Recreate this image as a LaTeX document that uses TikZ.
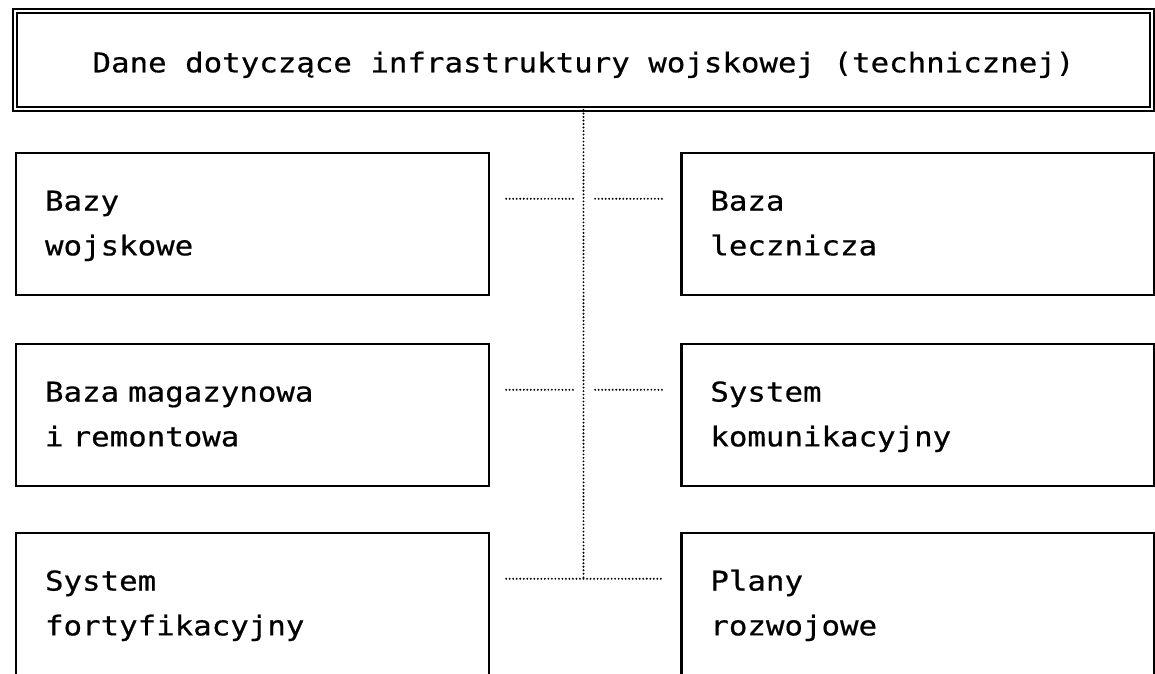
\documentclass[tikz,border=0pt]{standalone}
\usepackage{fontspec}
\newfontfamily\boxfont[FakeStretch=1.13,FakeBold=0.6]{DejaVu Sans Mono}
\usetikzlibrary{positioning}

\begin{document}
\begin{tikzpicture}[x=0.02cm,y=-0.02cm,
  box/.style={draw,line width=1.4pt,minimum width=9.46cm,minimum height=2.84cm,
    text width=8.3cm,inner xsep=0.58cm,align=left,
    font=\boxfont\fontsize{15.5}{25.5}\selectfont},
  headbox/.style={draw,double,double distance=1pt,line width=1.1pt,
    minimum width=22.74cm,minimum height=1.96cm,text height=14pt,text depth=0pt,
    font=\boxfont\fontsize{15.5}{20}\selectfont},
  link/.style={line width=1.2pt,line cap=round,dash pattern=on 0pt off 2pt}]
\useasboundingbox(0,0)rectangle(1155,673);
\clip(0,0)rectangle(1155,673);
% naglowek
\node[headbox](head)at(583.5,60){Dane dotyczące infrastruktury wojskowej (technicznej)};
% lewa kolumna
\node[box](bazy)at(252.5,224){\strut Bazy\\\strut wojskowe};
\node[box](magaz)at(252.5,415){\strut Baza magazynowa\\\strut i remontowa};
\node[box](fort)at(252.5,604){\strut System\\\strut fortyfikacyjny};
% prawa kolumna
\node[box,right=3.8cm of bazy](lecz){\strut Baza\\\strut lecznicza};
\node[box,right=3.8cm of magaz](komun){\strut System\\\strut komunikacyjny};
\node[box,right=3.8cm of fort](plany){\strut Plany\\\strut rozwojowe};
% polaczenia
\coordinate(k3a)at([shift={(16,47)}]fort.north east);
\coordinate(k3b)at([shift={(-17,47)}]plany.north west);
\draw[link](head.south)--(head.south|-k3a);
\draw[link](k3a)--(k3b);
\draw[link]([shift={(16,47)}]bazy.north east)--+(67,0);
\draw[link]([shift={(-85,47)}]lecz.north west)--+(67,0);
\draw[link]([shift={(16,47)}]magaz.north east)--+(67,0);
\draw[link]([shift={(-85,47)}]komun.north west)--+(67,0);
\end{tikzpicture}
\end{document}
